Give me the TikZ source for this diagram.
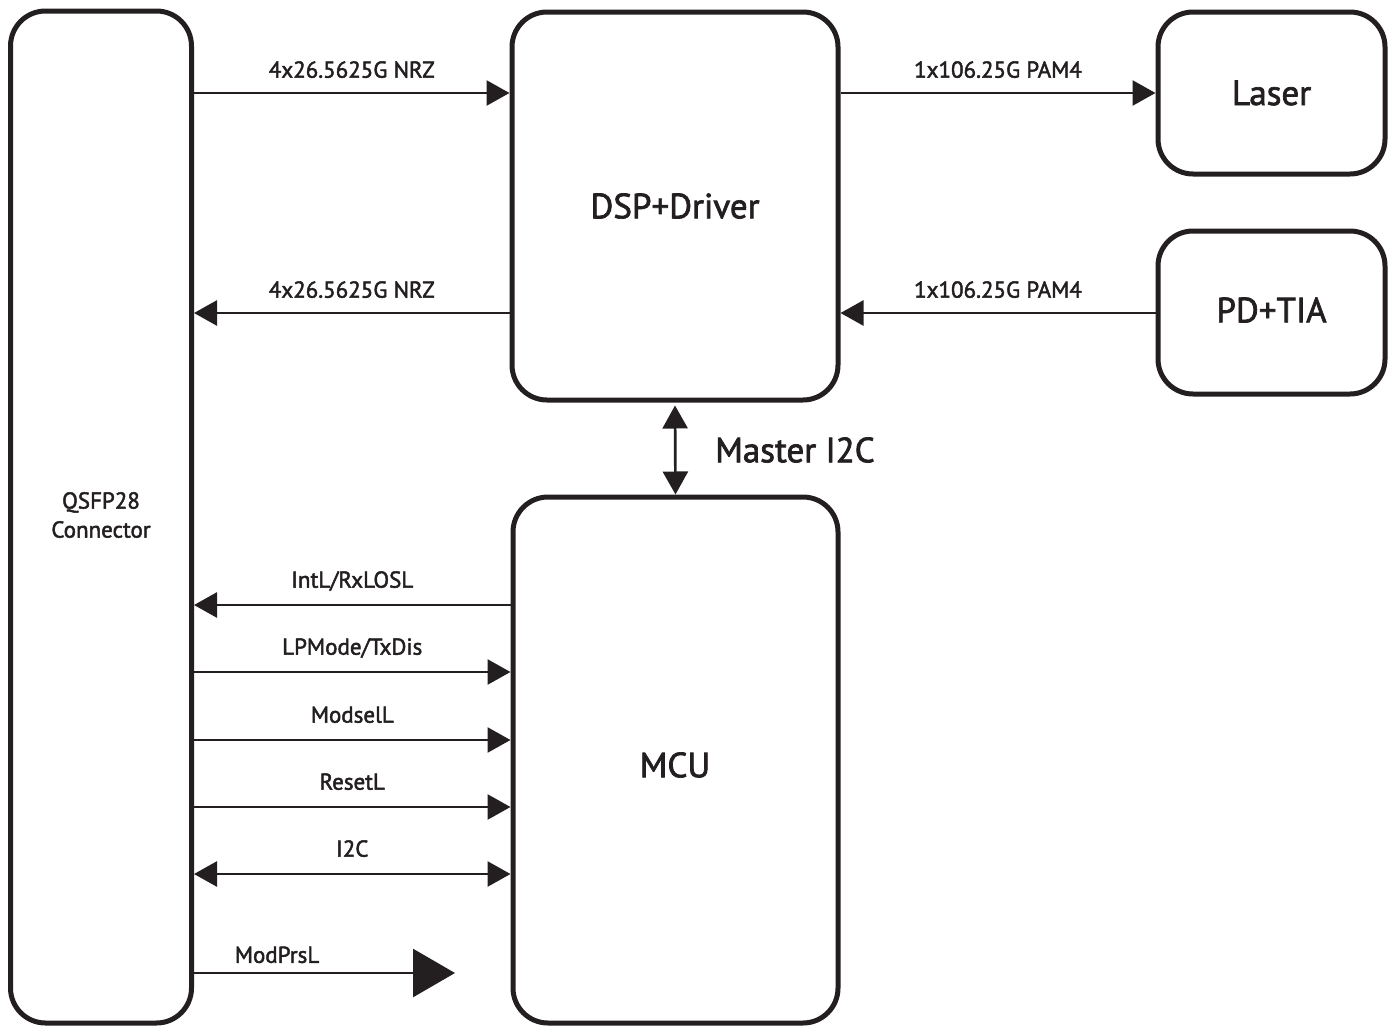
\documentclass[tikz,border=0pt]{standalone}
\usepackage{fontspec}
\setmainfont{PT Sans}[FakeBold=2]
\usetikzlibrary{arrows.meta,calc}
\definecolor{ink}{RGB}{35,31,32}
\begin{document}
\begin{tikzpicture}[x=1pt,y=-1pt,
  blk/.style={draw=ink,line width=5pt,rounded corners=35pt,inner sep=0pt,text=ink},
  big/.style={text=ink,font=\fontsize{35}{40}\selectfont,inner sep=0pt},
  sig/.style={draw=ink,line width=2.7pt,-{Triangle[length=23pt,width=25pt]}},
  bsig/.style={draw=ink,line width=2.7pt,{Triangle[length=23pt,width=25pt]}-{Triangle[length=23pt,width=25pt]}},
  txt/.style={text=ink,font=\fontsize{23}{27}\selectfont,inner sep=0pt,text depth=0pt},
  lbl/.style={txt,above=14pt},
  lblb/.style={txt,above=16pt}]
\useasboundingbox[fill=white] (0,0) rectangle (1394,1028);
\node[blk,minimum width=181pt,minimum height=1012pt] (qsfp) at (101,517) {};
\node[text=ink,align=center,font=\fontsize{23}{29}\selectfont,inner sep=0pt] (qsfpt) at (101,515) {QSFP28\\Connector};
\node[blk,minimum width=326pt,minimum height=388pt] (dsp) at (675,206) {};
\node[big] (dspt) at (675,206) {DSP+Driver};
\node[blk,minimum width=325pt,minimum height=526pt] (mcu) at (675.5,760) {};
\node[big] (mcut) at (675,765) {MCU};
\node[blk,minimum width=227pt,minimum height=162pt] (laser) at (1271.5,93) {};
\node[big] (lasert) at (1271.5,93) {Laser};
\node[blk,minimum width=227pt,minimum height=163pt] (pd) at (1271.5,312.5) {};
\node[big] (pdt) at (1271.5,310) {PD+TIA};
% QSFP <-> DSP
\draw[sig] (qsfp.east |- 0,93) -- node[lbl] {4x26.5625G NRZ} (dsp.west |- 0,93);
\draw[sig] (dsp.west |- 0,313) -- node[lbl] {4x26.5625G NRZ} (qsfp.east |- 0,313);
% DSP <-> optics
\draw[sig] (dsp.east |- 0,93) -- node[lbl] {1x106.25G PAM4} (laser.west |- 0,93);
\draw[sig] (pd.west |- 0,313) -- node[lbl] {1x106.25G PAM4} (dsp.east |- 0,313);
% Master I2C
\draw[bsig] ($(dsp.south)+(0,3)$) -- (mcu.north);
\node[big,anchor=west] (mi2c) at (715,450) {Master I2C};
% MCU <-> QSFP
\draw[sig] (mcu.west |- 0,605) -- node[lblb] {IntL/RxLOSL} (qsfp.east |- 0,605);
\draw[sig] (qsfp.east |- 0,672) -- node[lblb] {LPMode/TxDis} (mcu.west |- 0,672);
\draw[sig] (qsfp.east |- 0,740) -- node[lblb] {ModselL} (mcu.west |- 0,740);
\draw[sig] (qsfp.east |- 0,807) -- node[lblb] {ResetL} (mcu.west |- 0,807);
\draw[bsig] (qsfp.east |- 0,874) -- node[lblb] {I2C} (mcu.west |- 0,874);
% ModPrsL
\coordinate (mpend) at (455,973);
\draw[draw=ink,line width=2.7pt,-{Triangle[length=42pt,width=48pt]}] (qsfp.east |- mpend) -- (mpend);
\node[txt,anchor=south] (mplbl) at (277,963) {ModPrsL};
\end{tikzpicture}
\end{document}
